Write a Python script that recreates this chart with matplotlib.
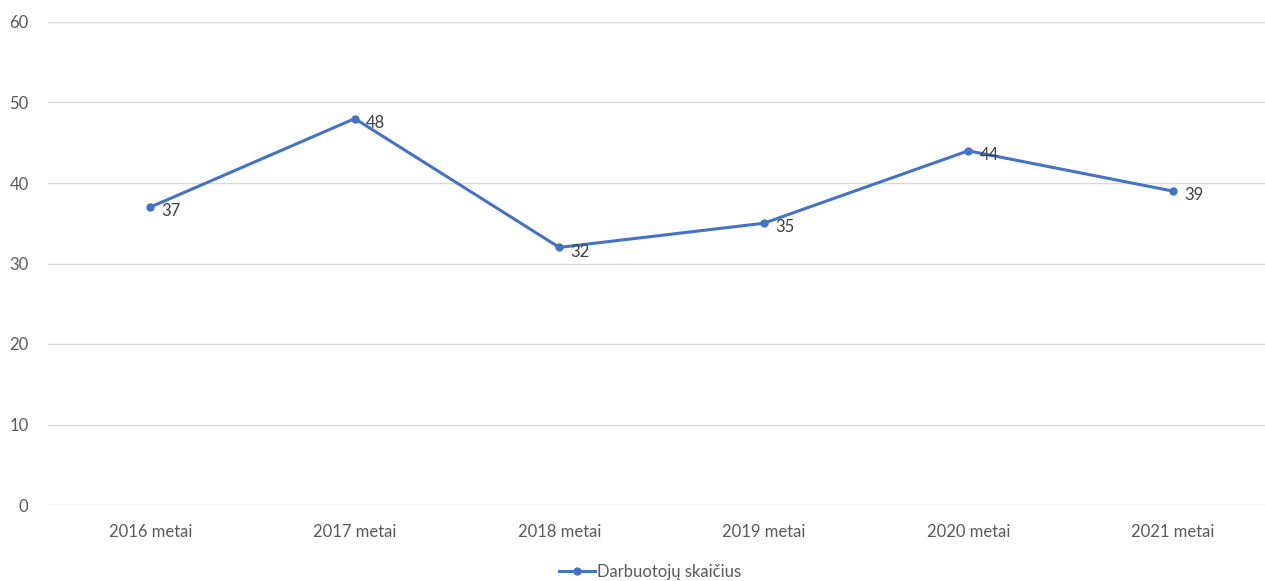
import matplotlib
matplotlib.use("Agg")
import matplotlib.pyplot as plt

# === Data ===
years = ["2016 metai", "2017 metai", "2018 metai", "2019 metai", "2020 metai", "2021 metai"]
workers = [37, 48, 32, 35, 44, 39]
series_name = "Darbuotojų skaičius"

blue = "#4472C4"
grey = "#595959"
plt.rcParams["font.family"] = ["Lato", "DejaVu Sans"]

fig = plt.figure(figsize=(12.65, 5.81), dpi=100)
W, H = 1265, 581
# axes spans past the right edge of the picture (cropped original)
ax = fig.add_axes([48 / W, (H - 505) / H, (1275 - 48) / W, (505 - 22) / H])

x = list(range(len(years)))
ax.plot(x, workers, color=blue, linewidth=2.2, marker="o", markersize=5,
        label=series_name, clip_on=False, zorder=3)

for xi, v in zip(x, workers):
    ax.annotate(str(v), (xi, v), xytext=(8, -3), textcoords="offset points",
                ha="left", va="center", fontsize=12, color="#404040")

ax.set_xlim(-0.5, len(years) - 0.5)
ax.set_ylim(0, 60)
ax.set_yticks(range(0, 61, 10))
ax.set_xticks(x)
ax.set_xticklabels(years)
ax.grid(axis="y", color="#d9d9d9", linewidth=1)
ax.set_axisbelow(True)
for s in ax.spines.values():
    s.set_visible(False)
ax.tick_params(axis="both", length=0, labelsize=12, labelcolor=grey)
ax.tick_params(axis="y", pad=14)
ax.tick_params(axis="x", pad=14)

leg = fig.legend(loc="center", bbox_to_anchor=(650 / W, (H - 572) / H), frameon=False,
                 fontsize=12, handlelength=2.2, handletextpad=0.1, borderpad=0)
for t in leg.get_texts():
    t.set_color(grey)

fig.savefig("out.png", dpi=100)
